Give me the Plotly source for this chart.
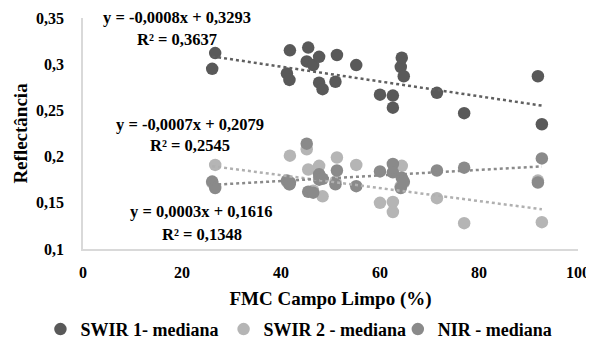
import plotly.graph_objects as go
import numpy as np

# ---- data ----
fmc = [26.1, 26.7, 41.2, 41.7, 41.8, 45.2, 45.5, 46.5, 47.7, 47.7, 48.4, 51.0,
       51.3, 55.2, 60.0, 62.6, 62.6, 64.2, 64.4, 64.8, 71.5, 77.0, 91.9, 92.7]
swir1 = [0.295, 0.312, 0.290, 0.283, 0.315, 0.303, 0.318, 0.299, 0.308, 0.280, 0.273, 0.281,
         0.310, 0.299, 0.267, 0.266, 0.253, 0.297, 0.307, 0.287, 0.269, 0.247, 0.287, 0.235]
swir2 = [0.172, 0.191, 0.173, 0.170, 0.201, 0.208, 0.186, 0.163, 0.190, 0.177, 0.157, 0.173,
         0.199, 0.191, 0.150, 0.151, 0.140, 0.168, 0.190, 0.172, 0.155, 0.128, 0.174, 0.129]
nir = [0.173, 0.166, 0.174, 0.170, 0.172, 0.214, 0.162, 0.161, 0.181, 0.175, 0.176, 0.170,
       0.185, 0.168, 0.184, 0.192, 0.183, 0.166, 0.177, 0.173, 0.185, 0.188, 0.172, 0.198]

series_names = ["SWIR 1- mediana", "SWIR 2 - mediana", "NIR - mediana"]
trend_slopes = [-0.0008, -0.0007, 0.0003]
trend_intercepts = [0.3293, 0.2079, 0.1616]
eq_texts = ["y = -0,0008x + 0,3293", "y = -0,0007x + 0,2079", "y = 0,0003x + 0,1616"]
r2_texts = ["R² = 0,3637", "R² = 0,2545", "R² = 0,1348"]

x_tickvals = [0, 20, 40, 60, 80, 100]
y_tickvals = [0.1, 0.15, 0.2, 0.25, 0.3, 0.35]
y_ticktext = ["0,1", "0,15", "0,2", "0,25", "0,3", "0,35"]

colors = ["#595959", "#b5b5b5", "#8a8a8a"]
trend_colors = ["#5f5f5f", "#b0b0b0", "#8a8a8a"]
FONT = "Liberation Serif"
legend_ids = ["legend", "legend2", "legend3"]
legend_x = [-0.086, 0.284, 0.636]   # paper x of each legend box (left edge)

fig = go.Figure()
for name, ys, c, lid in zip(series_names, [swir1, swir2, nir], colors, legend_ids):
    fig.add_trace(go.Scatter(x=fmc, y=ys, mode="markers", name=name, legend=lid,
                             marker=dict(color=c, size=12.5, line=dict(width=0))))

xmin, xmax = min(fmc), max(fmc)
for m, b, c in zip(trend_slopes, trend_intercepts, trend_colors):
    xs = np.array([xmin, xmax])
    fig.add_trace(go.Scatter(x=xs, y=m * xs + b, mode="lines", showlegend=False,
                             hoverinfo="skip",
                             line=dict(color=c, width=2.5, dash="dot")))

# annotation positions (paper coords)
eq_pos = [(0.19, 1.004, 0.908), (0.216, 0.538, 0.447), (0.24, 0.162, 0.063)]
for (xp, y1, y2), t1, t2 in zip(eq_pos, eq_texts, r2_texts):
    fig.add_annotation(x=xp, y=y1, xref="paper", yref="paper", text="<b>%s</b>" % t1,
                       xanchor="center", yanchor="middle",
                       showarrow=False, font=dict(family=FONT, size=16.5, color="#000"))
    fig.add_annotation(x=xp, y=y2, xref="paper", yref="paper", text="<b>%s</b>" % t2,
                       xanchor="center", yanchor="middle",
                       showarrow=False, font=dict(family=FONT, size=16.5, color="#000"))

legend_common = dict(orientation="h", y=-0.348, yanchor="middle",
                     font=dict(family=FONT, size=18, color="#000", weight="bold"),
                     itemwidth=30, bgcolor="rgba(0,0,0,0)")
# the page body has an 8px margin, so the figure is 8px smaller than the window
fig.update_layout(
    width=586, height=339,
    margin=dict(l=75, r=16, t=10, b=97.5, autoexpand=False),
    paper_bgcolor="white", plot_bgcolor="white",
    font=dict(family=FONT, color="#000"),
    showlegend=True,
    legend=dict(x=legend_x[0], xanchor="left", **legend_common),
    legend2=dict(x=legend_x[1], xanchor="left", **legend_common),
    legend3=dict(x=legend_x[2], xanchor="left", **legend_common),
)
fig.update_xaxes(range=[0, 100], tickvals=x_tickvals, ticks="", showgrid=False, zeroline=False,
                 automargin=False,
                 showline=True, linecolor="#d9d9d9", linewidth=1.5,
                 tickfont=dict(family=FONT, size=16, color="#000", weight="bold"),
                 ticklabelstandoff=8,
                 title=dict(text="<b>FMC Campo Limpo (%)</b>", standoff=12,
                            font=dict(family=FONT, size=19, color="#000")))
fig.update_yaxes(range=[0.1, 0.35], tickvals=y_tickvals, ticktext=y_ticktext, ticks="",
                 showgrid=False, zeroline=False, automargin=False,
                 showline=True, linecolor="#d9d9d9", linewidth=1.5,
                 tickfont=dict(family=FONT, size=16, color="#000", weight="bold"),
                 ticklabelstandoff=14,
                 title=dict(text="<b>Reflectância</b>", standoff=3,
                            font=dict(family=FONT, size=19, color="#000")))

fig.write_html("out.html")
